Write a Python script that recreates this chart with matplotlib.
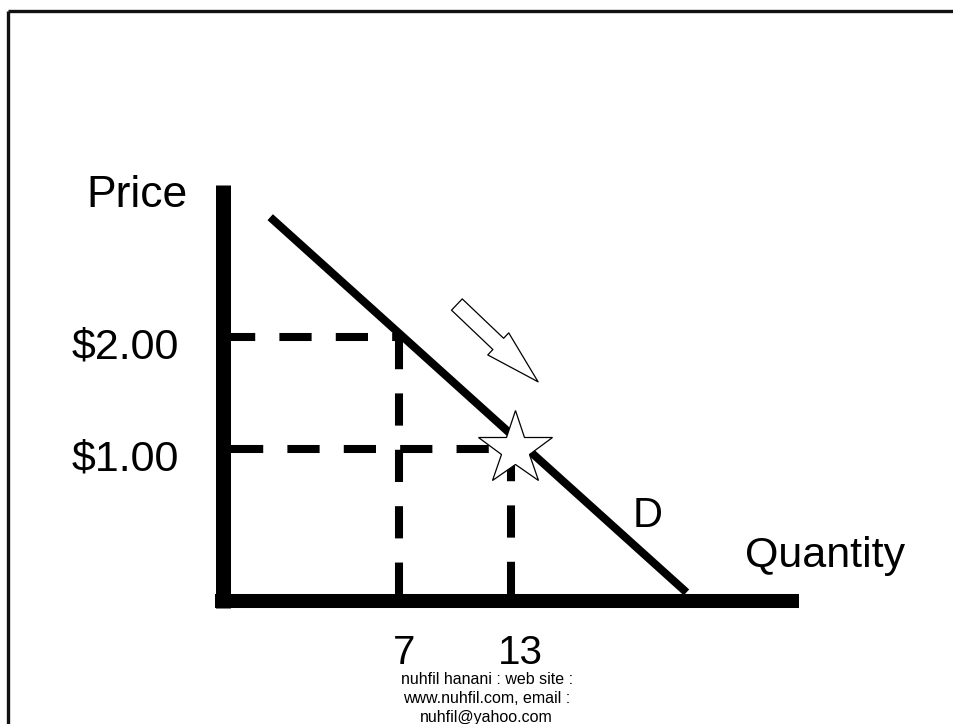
import matplotlib
matplotlib.use("Agg")
import matplotlib.pyplot as plt
from matplotlib.patches import FancyArrowPatch, ArrowStyle

plt.rcParams['font.family'] = ['Liberation Sans', 'DejaVu Sans']

# data
prices = [2.00, 1.00]
price_labels = ['$2.00', '$1.00']
quantities = [7, 13]
quantity_labels = ['7', '13']
demand_q = [0.1, 22.4]
demand_p = [3.07, -0.28]
star_q, star_p = 13.2, 1.0
arrow_from = (10.1, 2.29)
arrow_to = (14.45, 1.6)
footer = ['nuhfil hanani : web site :', 'www.nuhfil.com, email :', 'nuhfil@yahoo.com']

# axis bars (drawn by hand, like on the slide)
axis_q = -2.45
axis_p = -0.36

fig = plt.figure(figsize=(9.54, 7.24), dpi=100)
ax = fig.add_axes([0, 0, 1, 1])
ax.set_xlim(-14.375, 36.73)
ax.set_ylim(-1.455, 5.009)
ax.axis('off')

# slide border (top + left only)
ax.plot([8.5 / 954, 1], [1 - 10.5 / 724] * 2, color='#111111', lw=2.4,
        transform=ax.transAxes, solid_capstyle='butt', clip_on=False)
ax.plot([8.5 / 954] * 2, [0, 1 - 10.5 / 724], color='#111111', lw=2.4,
        transform=ax.transAxes, solid_capstyle='butt', clip_on=False)

# axes
ax.plot([axis_q, axis_q], [3.36, -0.42], color='black', lw=10.8, solid_capstyle='butt')
ax.plot([-2.87, 28.43], [axis_p, axis_p], color='black', lw=10.1, solid_capstyle='butt')

# dashed guides
starts = [-2.43, -2.0]
for p, q, s in zip(prices, quantities, starts):
    ax.plot([s, q], [p, p], color='black', lw=5.8, dashes=(4, 3), dash_capstyle='butt')
    ax.plot([q, q], [p, -0.295], color='black', lw=5.8, dashes=(4, 3), dash_capstyle='butt')

# demand curve
ax.plot(demand_q, demand_p, color='black', lw=5.8, solid_capstyle='butt')

# star
ax.plot(star_q, star_p, marker='*', ms=56, mfc='white', mec='black', mew=0.9, zorder=5)

# arrow
arr = FancyArrowPatch(arrow_from, arrow_to,
                      arrowstyle=ArrowStyle('Simple', head_length=39.6, head_width=21.9, tail_width=11.2),
                      mutation_scale=1, shrinkA=0, shrinkB=0,
                      facecolor='white', edgecolor='black', lw=0.9, zorder=5)
ax.add_patch(arr)

# labels
ax.text(-7.05, 3.16, 'Price', fontsize=32, ha='center', va='baseline')
for p, lab in zip(prices, price_labels):
    ax.text(-7.65, p - 0.19, lab, fontsize=31, ha='center', va='baseline')
for q, lab, dx in zip(quantities, quantity_labels, [0.25, 0.5]):
    ax.text(q + dx, -0.915, lab, fontsize=29, ha='center', va='baseline')
ax.text(29.8, -0.05, 'Quantity', fontsize=31, ha='center', va='baseline')
ax.text(20.3, 0.3, 'D', fontsize=30, ha='center', va='baseline')

for i, line in enumerate(footer):
    ax.text(11.7, -1.1 - i * 0.17, line, fontsize=11.5, ha='center', va='baseline')

fig.savefig('out.png', dpi=100)
